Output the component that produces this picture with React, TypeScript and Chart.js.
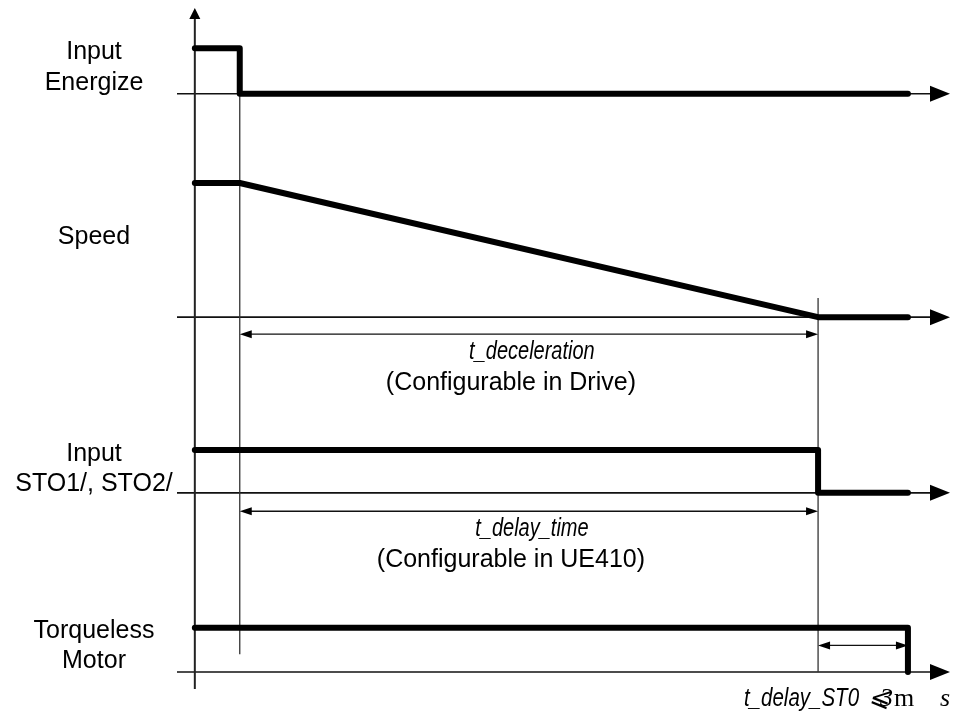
import React, { useEffect, useRef } from "react";
import { Chart, registerables } from "chart.js";
Chart.register(...registerables);

// ---- time axis (arbitrary units: 0 = start, 100 = end of t_delay_ST0) ----
const tEnergizeOff = 6.3;
const tDecelEnd = 87.4;
const tSTOEnd = 100;
const xMin = -2.5;
const xMax = 105.9;

// ---- lanes (signal levels in vertical units 0..100) ----
const laneNames = ["Input\nEnergize", "Speed", "Input\nSTO1/, STO2/", "Torqueless\nMotor"];
const laneBase = [87.4, 54.6, 28.8, 2.5];
const laneHigh = [94.1, 74.3, 35.1, 9.0];

// ---- signals: times and logical levels (1 = high, 0 = low) ----
const energizeT = [0, 6.3, 6.3, 100];
const energizeL = [1, 1, 0, 0];
const speedT = [0, 6.3, 87.4, 100];
const speedL = [1, 1, 0, 0];
const stoT = [0, 87.4, 87.4, 100];
const stoL = [1, 1, 0, 0];
const torqueT = [0, 100, 100];
const torqueL = [1, 1, 0];

// ---- reference (marker) lines ----
const markerT = [6.3, 87.4];
const markerTop = [87.4, 57.4];
const markerBottom = [5.1, 2.5];

// ---- dimension arrows ----
const dimFrom = [6.3, 6.3, 87.4];
const dimTo = [87.4, 87.4, 100];
const dimY = [52.1, 26.1, 6.4];
const dimTitle = ["t_deceleration", "t_delay_time", ""];
const dimNote = ["(Configurable in Drive)", "(Configurable in UE410)", ""];

const bottomLabelMain = "t_delay_ST0";
const bottomLabelLimit = ["⩽", "3", "m", "s"];

function pts(lane: number, ts: number[], ls: number[]) {
  return ts.map((t, i) => ({
    x: t,
    y: laneBase[lane] + ls[i] * (laneHigh[lane] - laneBase[lane]),
  }));
}

const SANS = '"Liberation Sans", Arial, sans-serif';
const SERIF = '"Liberation Serif", "DejaVu Serif", serif';

function condensedText(ctx: any, text: string, x: number, y: number, sx: number, align: string) {
  ctx.save();
  ctx.translate(x, y);
  ctx.scale(sx, 1);
  ctx.textAlign = align;
  ctx.fillText(text, 0, 0);
  ctx.restore();
}

const diagramPlugin = {
  id: "diagram",
  beforeDatasetsDraw(chart: any) {
    const { ctx, scales } = chart;
    const xs = scales.x;
    const ys = scales.y;
    const X = (v: number) => xs.getPixelForValue(v);
    const Y = (v: number) => ys.getPixelForValue(v);
    ctx.save();
    ctx.strokeStyle = "#111";
    ctx.fillStyle = "#000";
    ctx.lineWidth = 1.6;
    const tip = X(xMax);
    laneBase.forEach((b) => {
      const y = Y(b);
      ctx.beginPath();
      ctx.moveTo(X(xMin), y);
      ctx.lineTo(tip - 18, y);
      ctx.stroke();
      ctx.beginPath();
      ctx.moveTo(tip, y);
      ctx.lineTo(tip - 20, y - 8);
      ctx.lineTo(tip - 20, y + 8);
      ctx.closePath();
      ctx.fill();
    });
    const ax = X(0);
    ctx.lineWidth = 2;
    ctx.strokeStyle = "#222";
    ctx.beginPath();
    ctx.moveTo(ax, Y(0));
    ctx.lineTo(ax, Y(100) + 8);
    ctx.stroke();
    ctx.beginPath();
    ctx.moveTo(ax, Y(100));
    ctx.lineTo(ax - 5.5, Y(100) + 11);
    ctx.lineTo(ax + 5.5, Y(100) + 11);
    ctx.closePath();
    ctx.fill();
    ctx.lineWidth = 1.3;
    ctx.strokeStyle = "#333";
    markerT.forEach((t, i) => {
      ctx.beginPath();
      ctx.moveTo(X(t), Y(markerTop[i]));
      ctx.lineTo(X(t), Y(markerBottom[i]));
      ctx.stroke();
    });
    ctx.lineWidth = 1.3;
    ctx.strokeStyle = "#111";
    dimFrom.forEach((f, i) => {
      const x1 = X(f);
      const x2 = X(dimTo[i]);
      const y = Y(dimY[i]);
      ctx.beginPath();
      ctx.moveTo(x1 + 6, y);
      ctx.lineTo(x2 - 6, y);
      ctx.stroke();
      ctx.beginPath();
      ctx.moveTo(x1, y);
      ctx.lineTo(x1 + 12, y - 4);
      ctx.lineTo(x1 + 12, y + 4);
      ctx.closePath();
      ctx.fill();
      ctx.beginPath();
      ctx.moveTo(x2, y);
      ctx.lineTo(x2 - 12, y - 4);
      ctx.lineTo(x2 - 12, y + 4);
      ctx.closePath();
      ctx.fill();
    });
    ctx.restore();
  },
  afterDraw(chart: any) {
    const { ctx, scales } = chart;
    const xs = scales.x;
    const ys = scales.y;
    const X = (v: number) => xs.getPixelForValue(v);
    const Y = (v: number) => ys.getPixelForValue(v);
    ctx.save();
    ctx.fillStyle = "#000";
    ctx.textAlign = "center";
    ctx.textBaseline = "alphabetic";
    const fs = 25;
    const capHalf = fs * 0.358;
    ctx.font = `${fs}px ${SANS}`;
    const firstOffset = [2, 52, 2, 1];
    const labelX = 94;
    laneNames.forEach((name, i) => {
      const lines = name.split("\n");
      const y0 = Y(laneHigh[i]) + firstOffset[i];
      lines.forEach((ln, j) => {
        ctx.fillText(ln, labelX, y0 + j * 30.5 + capHalf);
      });
    });
    dimFrom.forEach((f, i) => {
      const yA = Y(dimY[i]);
      const mid = (X(f) + X(dimTo[i])) / 2;
      if (dimTitle[i]) {
        ctx.font = `italic ${fs}px ${SANS}`;
        condensedText(ctx, dimTitle[i], mid + 3, yA + 16 + capHalf, 0.8, "center");
      }
      if (dimNote[i]) {
        ctx.font = `${fs}px ${SANS}`;
        ctx.fillText(dimNote[i], mid - 18, yA + 47 + capHalf);
      }
    });
    const bx = X(tSTOEnd) - 164;
    const by = Y(0) + 17;
    ctx.font = `italic ${fs}px ${SANS}`;
    condensedText(ctx, bottomLabelMain, bx, by, 0.82, "left");
    ctx.textAlign = "left";
    const offs = [124, 136, 150, 196];
    bottomLabelLimit.forEach((s, k) => {
      ctx.font = k === 2 ? `26px ${SERIF}` : `italic 26px ${SERIF}`;
      ctx.fillText(s, bx + offs[k], by);
    });
    ctx.restore();
  },
};

export default function App() {
  const ref = useRef<HTMLCanvasElement | null>(null);
  useEffect(() => {
    if (!ref.current) return;
    const common = {
      borderColor: "#000",
      borderWidth: 6,
      pointRadius: 0,
      tension: 0,
      fill: false,
      borderCapStyle: "round" as const,
      borderJoinStyle: "round" as const,
    };
    const chart = new Chart(ref.current, {
      type: "line",
      data: {
        datasets: [
          { label: laneNames[0], data: pts(0, energizeT, energizeL), ...common },
          { label: laneNames[1], data: pts(1, speedT, speedL), ...common },
          { label: laneNames[2], data: pts(2, stoT, stoL), ...common },
          { label: laneNames[3], data: pts(3, torqueT, torqueL), ...common },
        ],
      },
      options: {
        animation: false,
        responsive: false,
        devicePixelRatio: 1,
        layout: { padding: { left: 177, right: 23, top: 8, bottom: 31 } },
        plugins: { legend: { display: false }, tooltip: { enabled: false } },
        scales: {
          x: { type: "linear", min: xMin, max: xMax, display: false },
          y: { type: "linear", min: 0, max: 100, display: false },
        },
      },
      plugins: [diagramPlugin],
    });
    return () => chart.destroy();
  }, []);
  return (
    <div style={{ position: "absolute", left: 0, top: 0, width: 973, height: 720, background: "#fff" }}>
      <canvas ref={ref} width={973} height={720} style={{ width: 973, height: 720 }} />
    </div>
  );
}
